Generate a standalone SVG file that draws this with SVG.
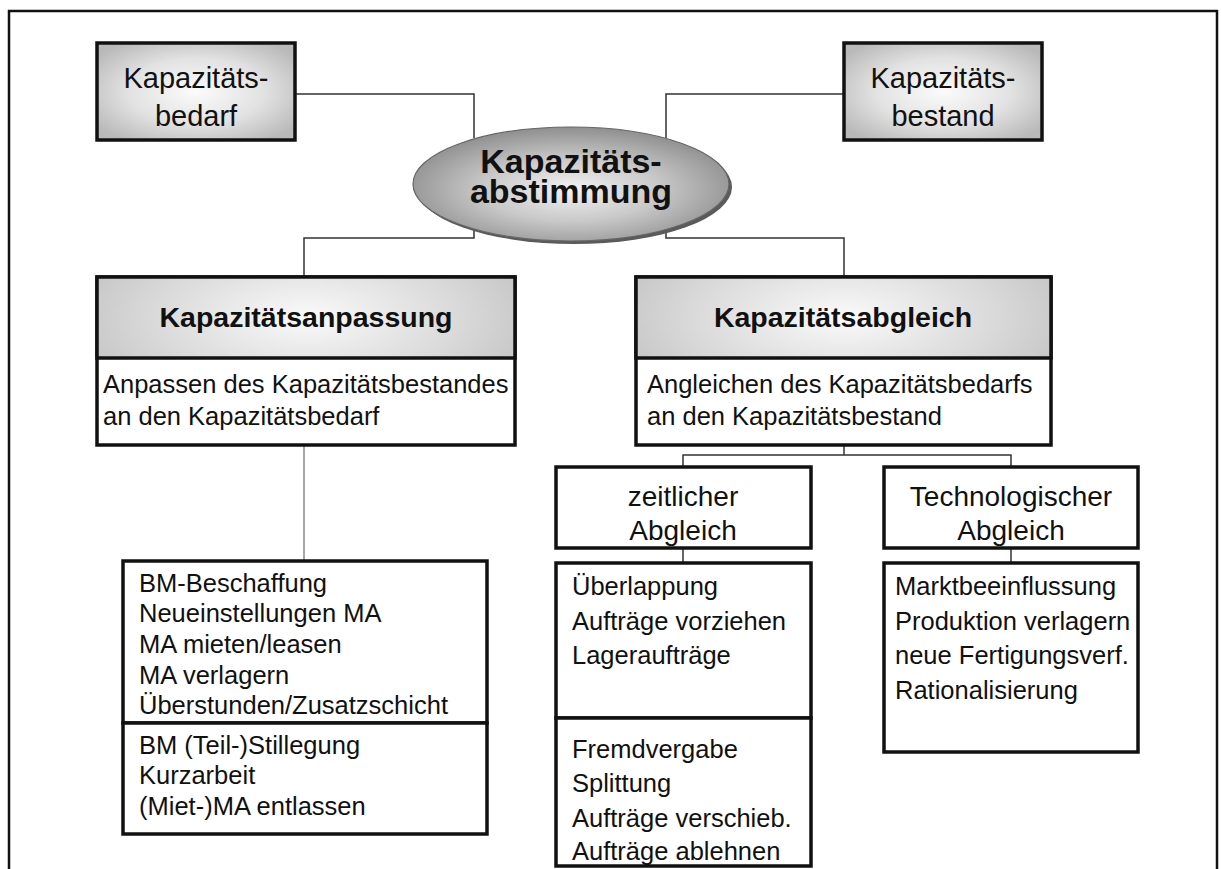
<svg xmlns="http://www.w3.org/2000/svg" width="1221" height="869" viewBox="0 0 1221 869">
  <defs>
    <radialGradient id="boxShade" cx="0.5" cy="0.5" r="0.62">
      <stop offset="0" stop-color="#fbfbfb"/>
      <stop offset="0.55" stop-color="#e2e2e2"/>
      <stop offset="1" stop-color="#b9b9b9"/>
    </radialGradient>
    <radialGradient id="headShade" cx="0.5" cy="0.5" r="0.6" gradientTransform="translate(0.5 0.5) scale(1 2.2) translate(-0.5 -0.5)">
      <stop offset="0" stop-color="#fafafa"/>
      <stop offset="0.6" stop-color="#dadada"/>
      <stop offset="1" stop-color="#c2c2c2"/>
    </radialGradient>
    <radialGradient id="ovalShade" cx="0.5" cy="0.55" r="0.55">
      <stop offset="0" stop-color="#f2f2f2"/>
      <stop offset="0.5" stop-color="#c9c9c9"/>
      <stop offset="1" stop-color="#8f8f8f"/>
    </radialGradient>
  </defs>
  <style>
    text { font-family: "Liberation Sans", Arial, sans-serif; fill: #111; }
    .box { fill: #fff; stroke: #111; stroke-width: 3.5; }
    .shaded { fill: url(#boxShade); stroke: #111; stroke-width: 3.5; }
    .head { fill: url(#headShade); stroke: #111; stroke-width: 3.5; }
    .wire { fill: none; stroke: #333; stroke-width: 1.5; }
    .wire-light { fill: none; stroke: #8a8a8a; stroke-width: 1.5; }
    .t28 { font-size: 28px; }
    .t29 { font-size: 29px; }
    .list { font-size: 25.5px; }
    .bold { font-weight: bold; font-size: 28.5px; }
    .mid { text-anchor: middle; }
  </style>

  <rect width="1221" height="869" fill="#fff"/>
  <!-- outer frame, open at the bottom edge -->
  <rect x="9" y="11" width="1208" height="880" fill="none" stroke="#111" stroke-width="2.5"/>

  <g id="connectors">
    <polyline class="wire" points="296,94 474,94 474,138"/>
    <polyline class="wire" points="844,94 666,94 666,138"/>
    <polyline class="wire" points="474,228 474,238 304,238 304,277"/>
    <polyline class="wire" points="666,228 666,238 844,238 844,277"/>
    <line class="wire-light" x1="304" y1="445" x2="304" y2="561"/>
    <polyline class="wire" points="844,445 844,455"/>
    <polyline class="wire" points="683,467 683,455 1011,455 1011,467"/>
    <line class="wire" x1="683" y1="548" x2="683" y2="563"/>
    <line class="wire" x1="1011" y1="548" x2="1011" y2="563"/>
  </g>

  <g id="bedarf">
    <rect class="shaded" x="97" y="43" width="198" height="97"/>
    <text class="t29 mid" x="196" y="88">Kapazitäts-</text>
    <text class="t29 mid" x="196" y="126">bedarf</text>
  </g>

  <g id="bestand">
    <rect class="shaded" x="844" y="43" width="198" height="97"/>
    <text class="t29 mid" x="943" y="88">Kapazitäts-</text>
    <text class="t29 mid" x="943" y="126">bestand</text>
  </g>

  <g id="abstimmung">
    <ellipse cx="574" cy="187" rx="158" ry="57" fill="#5a5a5a"/>
    <ellipse cx="571" cy="184" rx="158" ry="57" fill="url(#ovalShade)" stroke="#666" stroke-width="1.2"/>
    <text class="mid" x="571" y="173" font-size="34" font-weight="bold">Kapazitäts-</text>
    <text class="mid" x="571" y="203" font-size="34" font-weight="bold">abstimmung</text>
  </g>

  <g id="anpassung">
    <rect class="box" x="97" y="277" width="418" height="168"/>
    <rect class="head" x="97" y="277" width="418" height="81"/>
    <text class="bold mid" x="306" y="327">Kapazitätsanpassung</text>
    <text class="list" x="103" y="393">Anpassen des Kapazitätsbestandes</text>
    <text class="list" x="103" y="425">an den Kapazitätsbedarf</text>
  </g>

  <g id="abgleich">
    <rect class="box" x="636" y="277" width="415" height="168"/>
    <rect class="head" x="636" y="277" width="415" height="81"/>
    <text class="bold mid" x="843" y="327">Kapazitätsabgleich</text>
    <text class="list" x="647" y="393">Angleichen des Kapazitätsbedarfs</text>
    <text class="list" x="647" y="425">an den Kapazitätsbestand</text>
  </g>

  <g id="zeitlich">
    <rect class="box" x="556" y="467" width="255" height="81"/>
    <text class="t28 mid" x="683" y="506">zeitlicher</text>
    <text class="t28 mid" x="683" y="540">Abgleich</text>
  </g>

  <g id="technologisch">
    <rect class="box" x="884" y="467" width="254" height="81"/>
    <text class="t28 mid" x="1011" y="506">Technologischer</text>
    <text class="t28 mid" x="1011" y="540">Abgleich</text>
  </g>

  <g id="anpassung-massnahmen">
    <rect class="box" x="123" y="561" width="364" height="162"/>
    <rect class="box" x="123" y="723" width="364" height="111"/>
    <text class="list" x="139" y="592">BM-Beschaffung</text>
    <text class="list" x="139" y="622">Neueinstellungen MA</text>
    <text class="list" x="139" y="653">MA mieten/leasen</text>
    <text class="list" x="139" y="684">MA verlagern</text>
    <text class="list" x="139" y="714">Überstunden/Zusatzschicht</text>
    <text class="list" x="139" y="754">BM (Teil-)Stillegung</text>
    <text class="list" x="139" y="784">Kurzarbeit</text>
    <text class="list" x="139" y="815">(Miet-)MA entlassen</text>
  </g>

  <g id="zeitlich-massnahmen">
    <rect class="box" x="556" y="563" width="255" height="155"/>
    <rect class="box" x="556" y="718" width="255" height="148"/>
    <text class="list" x="572" y="595">Überlappung</text>
    <text class="list" x="572" y="630">Aufträge vorziehen</text>
    <text class="list" x="572" y="664">Lageraufträge</text>
    <text class="list" x="572" y="758">Fremdvergabe</text>
    <text class="list" x="572" y="792">Splittung</text>
    <text class="list" x="572" y="827">Aufträge verschieb.</text>
    <text class="list" x="572" y="860">Aufträge ablehnen</text>
  </g>

  <g id="technologisch-massnahmen">
    <rect class="box" x="884" y="563" width="254" height="189"/>
    <text class="list" x="895" y="595">Marktbeeinflussung</text>
    <text class="list" x="895" y="630">Produktion verlagern</text>
    <text class="list" x="895" y="664">neue Fertigungsverf.</text>
    <text class="list" x="895" y="699">Rationalisierung</text>
  </g>
</svg>
